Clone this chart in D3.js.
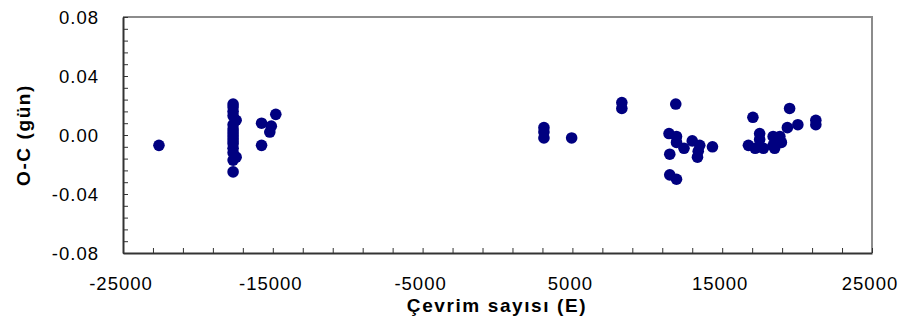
<!DOCTYPE html>
<html>
<head>
<meta charset="utf-8">
<script src="https://cdn.jsdelivr.net/npm/d3@7"></script>
<style>
  html, body { margin: 0; padding: 0; background: #fff; }
  svg { display: block; font-family: "Liberation Sans", Arial, sans-serif; }
</style>
</head>
<body>
<svg id="chart" width="901" height="327"></svg>
<script>
// Cycle number (E) of each timing
const cycles = [
  -22600,
  -17650, -17650, -17650, -17650, -17450, -17650, -17650, -17650, -17650,
  -17650, -17650, -17650, -17650, -17650, -17450, -17650, -17650,
  -15750, -14800, -15100, -15200, -15750,
  3100, 3100, 3100, 4950,
  8300, 8300,
  11900, 11450, 11950, 11950, 12450, 13000, 13500, 13400, 13350, 14350,
  11500, 11500, 11950,
  17050, 19500, 21250, 21250, 20050, 19350, 17500, 16750, 17200, 17750,
  17500, 18400, 18400, 18850, 18500, 18950
];
// O-C residual in days
const residuals = [
  -0.007,
  0.021, 0.019, 0.016, 0.013, 0.010, 0.007, 0.004, 0.002, 0.000,
  -0.002, -0.004, -0.006, -0.009, -0.012, -0.015, -0.017, -0.025,
  0.008, 0.014, 0.006, 0.002, -0.007,
  0.005, 0.002, -0.002, -0.002,
  0.022, 0.018,
  0.021, 0.001, -0.001, -0.005, -0.009, -0.004, -0.007, -0.011, -0.015, -0.008,
  -0.013, -0.027, -0.030,
  0.012, 0.018, 0.010, 0.007, 0.007, 0.005, 0.001, -0.007, -0.009, -0.009,
  -0.003, -0.001, -0.007, -0.001, -0.009, -0.005
];
const xTickLabels = [-25000, -15000, -5000, 5000, 15000, 25000];
const yTickLabels = [0.08, 0.04, 0.00, -0.04, -0.08];

const svg = d3.select("#chart");
const plotLeft = 123, plotRight = 872, plotTop = 17, plotBottom = 253;

const x = d3.scaleLinear().domain([-25000, 25000]).range([plotLeft, plotRight]);
const y = d3.scaleLinear().domain([-0.08, 0.08]).range([plotBottom, plotTop]);

// Gray frame on top and right
svg.append("path")
  .attr("d", `M${plotLeft},${plotTop}H${plotRight}V${plotBottom}`)
  .attr("fill", "none").attr("stroke", "#8c8c8c").attr("stroke-width", 2);

// Bottom axis: inner ticks every 2000, labels every 10000
const xAxis = d3.axisBottom(x)
  .tickValues(d3.range(-25000, 25001, 2000).concat([25000]))
  .tickSizeInner(-5).tickSizeOuter(0).tickFormat("");
const gx = svg.append("g").attr("transform", `translate(0,${plotBottom})`).call(xAxis);
gx.select(".domain").attr("stroke", "#333").attr("stroke-width", 2);
gx.selectAll(".tick line").attr("stroke", "#333").attr("stroke-width", 1);

svg.append("g").selectAll("text").data(xTickLabels).join("text")
  .attr("x", d => x(d) - 2).attr("y", 290)
  .attr("text-anchor", "middle")
  .attr("font-size", 18.5).attr("letter-spacing", 1).attr("fill", "#000")
  .text(d => d3.format("d")(d).replace("−", "-"));

// Left axis: inner ticks every 0.008, labels every 0.04
const yAxis = d3.axisLeft(y)
  .tickValues(d3.range(0, 21).map(i => -0.08 + i * 0.008))
  .tickSizeInner(-5).tickSizeOuter(0).tickFormat("");
const gy = svg.append("g").attr("transform", `translate(${plotLeft},0)`).call(yAxis);
gy.select(".domain").attr("stroke", "#333").attr("stroke-width", 2);
gy.selectAll(".tick line").attr("stroke", "#333").attr("stroke-width", 1);

svg.append("g").selectAll("text").data(yTickLabels).join("text")
  .attr("x", 99).attr("y", d => y(d) + 6.5)
  .attr("text-anchor", "end")
  .attr("font-size", 18.5).attr("letter-spacing", 1).attr("fill", "#000")
  .text(d => d3.format(".2f")(d).replace("−", "-"));

// Axis titles
svg.append("text")
  .attr("x", 497).attr("y", 312)
  .attr("text-anchor", "middle")
  .attr("font-size", 19).attr("font-weight", "bold")
  .attr("letter-spacing", 1.6)
  .text("Çevrim sayısı (E)");

svg.append("text")
  .attr("transform", "translate(30,135) rotate(-90)")
  .attr("text-anchor", "middle")
  .attr("font-size", 19).attr("font-weight", "bold")
  .attr("letter-spacing", 1.6)
  .text("O-C (gün)");

// Timing residuals
svg.append("g").selectAll("circle")
  .data(d3.zip(cycles, residuals)).join("circle")
  .attr("cx", d => x(d[0])).attr("cy", d => y(d[1]))
  .attr("r", 5.8).attr("fill", "#000080");
</script>
</body>
</html>
